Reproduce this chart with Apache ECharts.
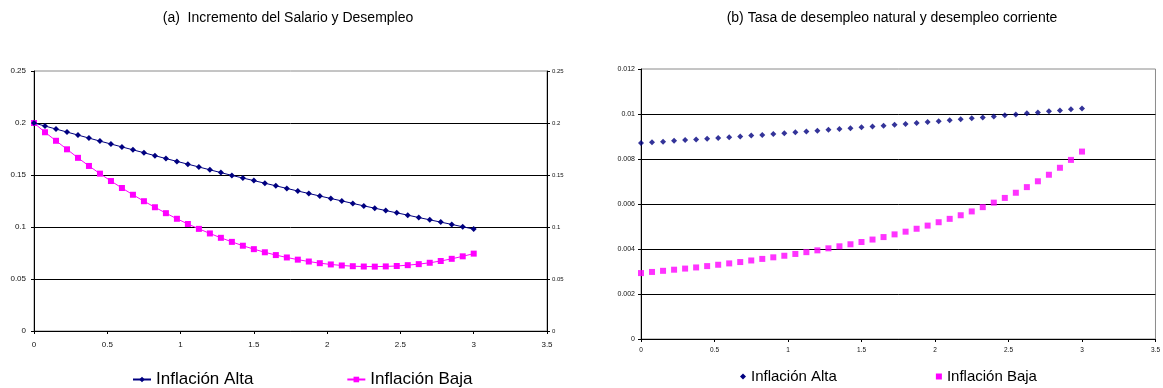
<!DOCTYPE html>
<html>
<head>
<meta charset="utf-8">
<script src="https://cdn.jsdelivr.net/npm/echarts@6/dist/echarts.min.js"></script>
<style>
html,body{margin:0;padding:0;background:#fff;}
#c{width:1163px;height:388px;}
</style>
</head>
<body>
<div id="c"></div>
<script>
// ---- data ----
const titleA = '(a)  Incremento del Salario y Desempleo';
const titleB = '(b) Tasa de desempleo natural y desempleo corriente';
const seriesNames = ['Inflación Alta', 'Inflación Baja'];
const xValues = [0,0.075,0.15,0.225,0.3,0.375,0.45,0.525,0.6,0.675,0.75,0.825,0.9,0.975,1.05,1.125,1.2,1.275,1.35,1.425,1.5,1.575,1.65,1.725,1.8,1.875,1.95,2.025,2.1,2.175,2.25,2.325,2.4,2.475,2.55,2.625,2.7,2.775,2.85,2.925,3];
const altaA = [0.2000,0.1971,0.1942,0.1913,0.1884,0.1855,0.1826,0.1798,0.1770,0.1742,0.1714,0.1686,0.1658,0.1631,0.1604,0.1577,0.1550,0.1523,0.1496,0.1471,0.1446,0.1421,0.1396,0.1371,0.1346,0.1322,0.1298,0.1274,0.1251,0.1227,0.1203,0.1181,0.1158,0.1136,0.1114,0.1091,0.1069,0.1047,0.1025,0.1002,0.0980];
const bajaA = [0.2000,0.1911,0.1829,0.1747,0.1665,0.1587,0.1513,0.1442,0.1375,0.1310,0.1248,0.1190,0.1133,0.1079,0.1029,0.0982,0.0938,0.0896,0.0857,0.0820,0.0787,0.0757,0.0730,0.0707,0.0686,0.0668,0.0652,0.0640,0.0630,0.0623,0.0620,0.0619,0.0621,0.0625,0.0633,0.0643,0.0656,0.0673,0.0694,0.0718,0.0744];
const altaB = [0.00871,0.00874,0.00877,0.00881,0.00884,0.00887,0.00890,0.00893,0.00897,0.00900,0.00904,0.00907,0.00911,0.00915,0.00919,0.00922,0.00926,0.00930,0.00933,0.00937,0.00941,0.00944,0.00948,0.00952,0.00956,0.00960,0.00964,0.00968,0.00972,0.00977,0.00981,0.00985,0.00989,0.00994,0.00998,0.01003,0.01007,0.01012,0.01016,0.01021,0.01025];
const bajaB = [0.00293,0.00298,0.00303,0.00308,0.00313,0.00318,0.00324,0.00330,0.00336,0.00342,0.00349,0.00356,0.00363,0.00370,0.00378,0.00386,0.00394,0.00403,0.00412,0.00421,0.00431,0.00442,0.00453,0.00465,0.00477,0.00490,0.00504,0.00519,0.00534,0.00550,0.00567,0.00586,0.00606,0.00627,0.00650,0.00675,0.00701,0.00730,0.00761,0.00796,0.00833];
const xTicks = {min: 0, max: 3.5, interval: 0.5};
const yTicksA = {min: 0, max: 0.25, interval: 0.05};
const yTicksB = {min: 0, max: 0.012, interval: 0.002};

// ---- chart ----
const FONT = '"Liberation Sans", Arial, sans-serif';
const NAVY = '#000080', MAG = '#FF00FF';
const pairs = ys => xValues.map((x, i) => [x, ys[i]]);

const chart = echarts.init(document.getElementById('c'), null, {renderer: 'canvas'});

function xAxis(gridIndex, fs, margin) {
  return {
    type: 'value', gridIndex, min: xTicks.min, max: xTicks.max, interval: xTicks.interval,
    axisLine: {show: true, onZero: false, lineStyle: {color: '#000', width: 1}},
    axisTick: {show: true, inside: false, length: 3, lineStyle: {color: '#000'}},
    axisLabel: {fontFamily: FONT, fontSize: fs, color: '#111', margin},
    splitLine: {show: false}
  };
}

const option = {
  animation: false,
  backgroundColor: '#fff',
  title: [
    {text: titleA, left: 288, top: 11, textAlign: 'center', padding: 0,
     textStyle: {fontFamily: FONT, fontSize: 14, fontWeight: 'normal', color: '#000'}},
    {text: titleB, left: 892, top: 11, textAlign: 'center', padding: 0,
     textStyle: {fontFamily: FONT, fontSize: 14, fontWeight: 'normal', color: '#000'}}
  ],
  legend: [
    {data: seriesNames, left: 132, top: 371, orient: 'horizontal', itemGap: 93,
     itemWidth: 18, itemHeight: 7, padding: 0,
     textStyle: {fontFamily: FONT, fontSize: 17, color: '#000'}},
    {data: [{name: seriesNames[0], icon: 'diamond'}, {name: seriesNames[1], icon: 'rect'}],
     left: 740, top: 369, orient: 'horizontal', itemGap: 99,
     itemWidth: 6, itemHeight: 6, padding: 0,
     textStyle: {fontFamily: FONT, fontSize: 15, color: '#000'}}
  ],
  grid: [
    {left: 34, right: 616, top: 71, height: 260, show: true, borderColor: '#8a8a8a', borderWidth: 1, containLabel: false},
    {left: 641, right: 6, top: 69, height: 270, show: true, borderColor: '#8a8a8a', borderWidth: 1, containLabel: false}
  ],
  xAxis: [xAxis(0, 8, 10), xAxis(1, 6.5, 8)],
  yAxis: [
    {type: 'value', gridIndex: 0, position: 'left', min: yTicksA.min, max: yTicksA.max, interval: yTicksA.interval,
     axisLine: {show: true, lineStyle: {color: '#000'}},
     axisTick: {show: true, inside: false, length: 3, lineStyle: {color: '#000'}},
     axisLabel: {fontFamily: FONT, fontSize: 8, color: '#111', margin: 8},
     splitLine: {show: true, showMaxLine: false, lineStyle: {color: '#000', width: 1}}},
    {type: 'value', gridIndex: 0, position: 'right', min: yTicksA.min, max: yTicksA.max, interval: yTicksA.interval,
     axisLine: {show: true, lineStyle: {color: '#000'}},
     axisTick: {show: true, inside: false, length: 3, lineStyle: {color: '#000'}},
     axisLabel: {fontFamily: FONT, fontSize: 6, color: '#111', margin: 5},
     splitLine: {show: false}},
    {type: 'value', gridIndex: 1, position: 'left', min: yTicksB.min, max: yTicksB.max, interval: yTicksB.interval,
     axisLine: {show: true, lineStyle: {color: '#000'}},
     axisTick: {show: true, inside: false, length: 3, lineStyle: {color: '#000'}},
     axisLabel: {fontFamily: FONT, fontSize: 7, color: '#111', margin: 6},
     splitLine: {show: true, showMaxLine: false, lineStyle: {color: '#000', width: 1}}}
  ],
  series: [
    {name: seriesNames[0], type: 'line', xAxisIndex: 0, yAxisIndex: 0, data: pairs(altaA),
     symbol: 'diamond', symbolSize: 6, showAllSymbol: true,
     lineStyle: {color: NAVY, width: 1}, itemStyle: {color: NAVY}, z: 3},
    {name: seriesNames[1], type: 'line', xAxisIndex: 0, yAxisIndex: 0, data: pairs(bajaA),
     symbol: 'rect', symbolSize: 6, showAllSymbol: true,
     lineStyle: {color: MAG, width: 1}, itemStyle: {color: MAG}, z: 2},
    {name: seriesNames[0], type: 'scatter', xAxisIndex: 1, yAxisIndex: 2, data: pairs(altaB),
     symbol: 'diamond', symbolSize: 6, itemStyle: {color: NAVY}},
    {name: seriesNames[1], type: 'scatter', xAxisIndex: 1, yAxisIndex: 2, data: pairs(bajaB),
     symbol: 'rect', symbolSize: 6, itemStyle: {color: MAG}}
  ]
};
chart.setOption(option);
</script>
</body>
</html>
